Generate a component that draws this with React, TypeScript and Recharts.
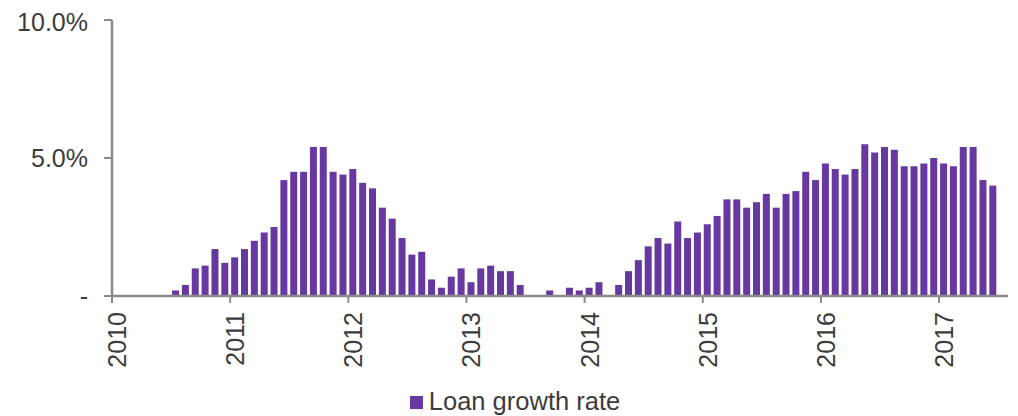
import { BarChart, Bar, XAxis, YAxis, Legend } from "recharts"

const years = [2010, 2011, 2012, 2013, 2014, 2015, 2016, 2017]

// monthly loan growth rate, %, Jan 2010 .. Jul 2017 (last month empty)
const loanGrowth: (number | null)[] = [
  -0.1, -0.1, -0.1, -0.1, -0.1, 0, 0.2, 0.4, 1.0, 1.1, 1.7, 1.2,
  1.4, 1.7, 2.0, 2.3, 2.5, 4.2, 4.5, 4.5, 5.4, 5.4, 4.5, 4.4,
  4.6, 4.1, 3.9, 3.2, 2.8, 2.1, 1.5, 1.6, 0.6, 0.3, 0.7, 1.0,
  0.5, 1.0, 1.1, 0.9, 0.9, 0.4, -0.1, -0.1, 0.2, -0.1, 0.3, 0.2,
  0.3, 0.5, 0, 0.4, 0.9, 1.3, 1.8, 2.1, 1.9, 2.7, 2.1, 2.3,
  2.6, 2.9, 3.5, 3.5, 3.2, 3.4, 3.7, 3.2, 3.7, 3.8, 4.5, 4.2,
  4.8, 4.6, 4.4, 4.6, 5.5, 5.2, 5.4, 5.3, 4.7, 4.7, 4.8, 5.0,
  4.8, 4.7, 5.4, 5.4, 4.2, 4.0, null,
]

const yTicks = [0, 5, 10]

const months = years
  .flatMap((y) => Array.from({ length: 12 }, (_, i) => `${y}-${String(i + 1).padStart(2, "0")}`))
  .slice(0, loanGrowth.length)

const data = months.map((m, i) => ({ month: m, rate: loanGrowth[i] }))

const W = 1010
const H = 408
const TOP = 12
const LEFT = 104
const RIGHT = 10
const PLOT_H = 276
const AXIS_Y = TOP + PLOT_H
const BAND = (W - LEFT - RIGHT) / data.length

const FONT = "'Liberation Sans', Arial, sans-serif"
const PURPLE = "#6638a0"
const GREY = "#8a8a8a"
const TEXT = "#3c3c3c"

function YearTick(props: any) {
  const { x, payload } = props
  const bx = x - BAND / 2
  return (
    <g>
      <line x1={bx} x2={bx} y1={AXIS_Y} y2={AXIS_Y + 7} stroke={GREY} strokeWidth={2} />
      <text
        transform={`translate(${x}, ${AXIS_Y + 16}) rotate(-90)`}
        textAnchor="end"
        dy="0.36em"
        fontSize={25}
        fontFamily={FONT}
        fill={TEXT}
      >
        {String(payload.value).slice(0, 4)}
      </text>
    </g>
  )
}

function LegendBox() {
  return (
    <div
      style={{
        height: 30,
        display: "flex",
        justifyContent: "center",
        alignItems: "center",
        paddingLeft: 14,
        fontFamily: FONT,
        fontSize: 25.5,
        color: TEXT,
      }}
    >
      <span style={{ width: 13, height: 13, background: PURPLE, marginRight: 6, marginTop: 2 }} />
      Loan growth rate
    </div>
  )
}

export default function App() {
  return (
    <BarChart
      width={W}
      height={H}
      data={data}
      margin={{ top: TOP, right: RIGHT, left: 0, bottom: 0 }}
      barSize={7}
    >
      <XAxis
        dataKey="month"
        interval={11}
        tickLine={false}
        axisLine={{ stroke: GREY, strokeWidth: 2.5 }}
        height={90}
        tick={<YearTick />}
      />
      <YAxis
        width={LEFT}
        domain={[0, 10]}
        allowDataOverflow
        ticks={yTicks}
        tickFormatter={(v: number) => (v === 0 ? "-" : `${v.toFixed(1)}%`)}
        axisLine={{ stroke: GREY, strokeWidth: 2.5 }}
        tickLine={{ stroke: GREY, strokeWidth: 2 }}
        tickSize={8}
        tickMargin={16}
        tick={{ fontSize: 25, fontFamily: FONT, fill: TEXT }}
      />
      <Legend verticalAlign="bottom" content={<LegendBox />} />
      <Bar dataKey="rate" name="Loan growth rate" fill={PURPLE} isAnimationActive={false} />
    </BarChart>
  )
}
